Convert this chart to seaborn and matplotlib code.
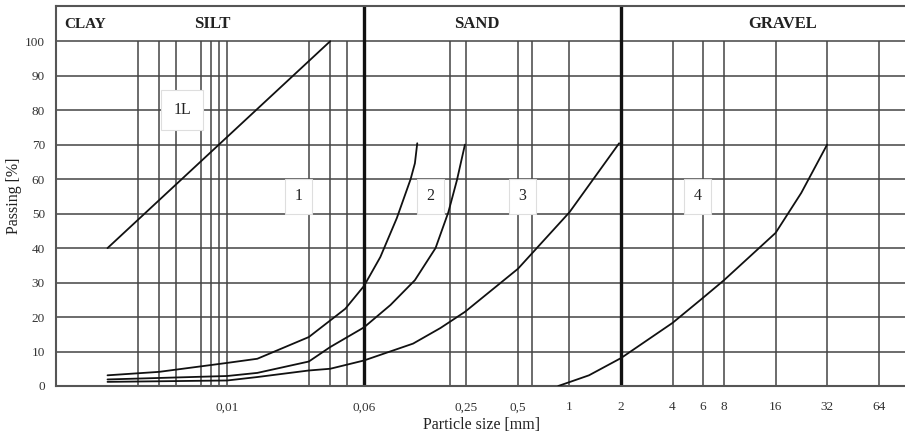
import matplotlib
matplotlib.use("Agg")
import matplotlib.pyplot as plt
import seaborn as sns
import pandas as pd
from matplotlib.ticker import FixedLocator, NullFormatter

# ---- data ----
c1L_x = [0.002, 0.04]
c1L_y = [40, 100]

c1_x = [0.002, 0.004, 0.01, 0.015, 0.03, 0.049, 0.063, 0.0785, 0.098, 0.118, 0.125, 0.129]
c1_y = [3.1, 4.1, 6.7, 7.9, 14.2, 22.4, 29.0, 37.4, 48.7, 60.0, 64.6, 70.4]

c2_x = [0.002, 0.01, 0.015, 0.03, 0.04, 0.063, 0.09, 0.125, 0.165, 0.196, 0.22, 0.245]
c2_y = [1.9, 2.9, 3.8, 7.1, 11.3, 17.0, 23.5, 30.7, 40.0, 50.4, 59.7, 70.0]

c3_x = [0.002, 0.01, 0.015, 0.03, 0.04, 0.063, 0.122, 0.176, 0.245, 0.5, 1.0, 1.95]
c3_y = [1.2, 1.6, 2.6, 4.5, 5.0, 7.4, 12.3, 16.8, 21.5, 34.0, 50.4, 70.4]

c4_x = [0.86, 1.3, 2, 4, 6, 8, 16, 22.6, 32]
c4_y = [0.0, 3.1, 8.1, 18.3, 25.5, 30.7, 44.4, 56.0, 70.0]

curve_names = ["1L", "1", "2", "3", "4"]
label_x = [0.00545, 0.026, 0.154, 0.53, 5.6]
label_y = [80, 55, 55, 55, 55]

grid_sizes = [0.003, 0.004, 0.005, 0.007, 0.008, 0.009, 0.01, 0.03, 0.04, 0.05,
              0.2, 0.25, 0.5, 0.6, 1, 4, 6, 8, 16, 32, 64]
boundary_sizes = [0.063, 2]
tick_sizes = [0.01, 0.063, 0.25, 0.5, 1, 2, 4, 6, 8, 16, 32, 64]
tick_labels = ["0,01", "0,06", "0,25", "0,5", "1", "2", "4", "6", "8", "16", "32", "64"]

zone_names = ["CLAY", "SILT", "SAND", "GRAVEL"]
zone_x = [0.00111, 0.00823, 0.287, 17.6]
zone_ha = ["left", "center", "center", "center"]
zone_fs = [11, 12, 12, 12]

# ---- build frame ----
rows = []
for name, xs, ys in zip(curve_names, [c1L_x, c1_x, c2_x, c3_x, c4_x],
                        [c1L_y, c1_y, c2_y, c3_y, c4_y]):
    for i, (x, y) in enumerate(zip(xs, ys)):
        rows.append({"curve": name, "order": i, "size": x, "passing": y})
df = pd.DataFrame(rows)

sns.set_style("white")
plt.rcParams["font.family"] = ["Liberation Serif", "DejaVu Serif"]

fig = plt.figure(figsize=(9.05, 4.38), dpi=100)
ax = fig.add_axes([56 / 905, (438 - 386) / 438, 1 - 56 / 905 + 0.002, (386 - 5.7) / 438])

ax.set_xscale("log")
ax.set_xlim(0.001, 93.5)
ax.set_ylim(0, 110.3)

# grid
grid_col = "#444444"
ax.set_yticks(range(0, 101, 10))
ax.yaxis.set_minor_locator(FixedLocator(list(range(0, 111))))
ax.grid(axis="y", which="major", color=grid_col, lw=1.1, zorder=1)
ax.vlines(grid_sizes, 0, 100, colors=grid_col, lw=1.1, zorder=1)
ax.vlines(boundary_sizes, 0, 110.3, colors="#111111", lw=2.4, zorder=2)

for name in curve_names:
    sub = df[df["curve"] == name]
    sns.lineplot(data=sub, x="size", y="passing", sort=False, estimator=None,
                 color="#111111", lw=1.3, ax=ax, zorder=3, legend=False)

for name, x, y in zip(curve_names, label_x, label_y):
    pad = 0.75 if name == "1L" else 0.6
    ax.text(x, y, name, ha="center", va="center", fontsize=11.5, zorder=5, color="#222222",
            bbox=dict(boxstyle=f"square,pad={pad}", fc="white", ec="#dedede", lw=0.8))

for name, x, ha, fs in zip(zone_names, zone_x, zone_ha, zone_fs):
    ax.text(x, 104.9, name, ha=ha, va="center", fontsize=fs, fontweight="bold",
            color="#222222", zorder=5)

ax.set_xticks(tick_sizes)
ax.set_xticklabels(tick_labels)
ax.xaxis.set_minor_locator(FixedLocator([]))
ax.xaxis.set_minor_formatter(NullFormatter())
ax.tick_params(axis="x", which="major", length=0, pad=11, labelsize=9.5, labelcolor="#333333")
ax.tick_params(axis="y", which="major", direction="in", length=5, width=0.8,
               labelsize=9.5, pad=8, colors="#555555")
ax.tick_params(axis="y", which="minor", direction="in", length=3, width=0.6, colors="#777777")
for lab in ax.get_yticklabels():
    lab.set_color("#333333")

ax.spines["right"].set_visible(False)
for side in ["left", "bottom", "top"]:
    ax.spines[side].set_color("#555555")
    ax.spines[side].set_linewidth(1.5)

ax.set_xlabel("Particle size [mm]", fontsize=11.5, labelpad=3, color="#222222")
ax.set_ylabel("Passing [%]", fontsize=11.5, labelpad=2, color="#222222")

fig.savefig("out.png", dpi=100)
